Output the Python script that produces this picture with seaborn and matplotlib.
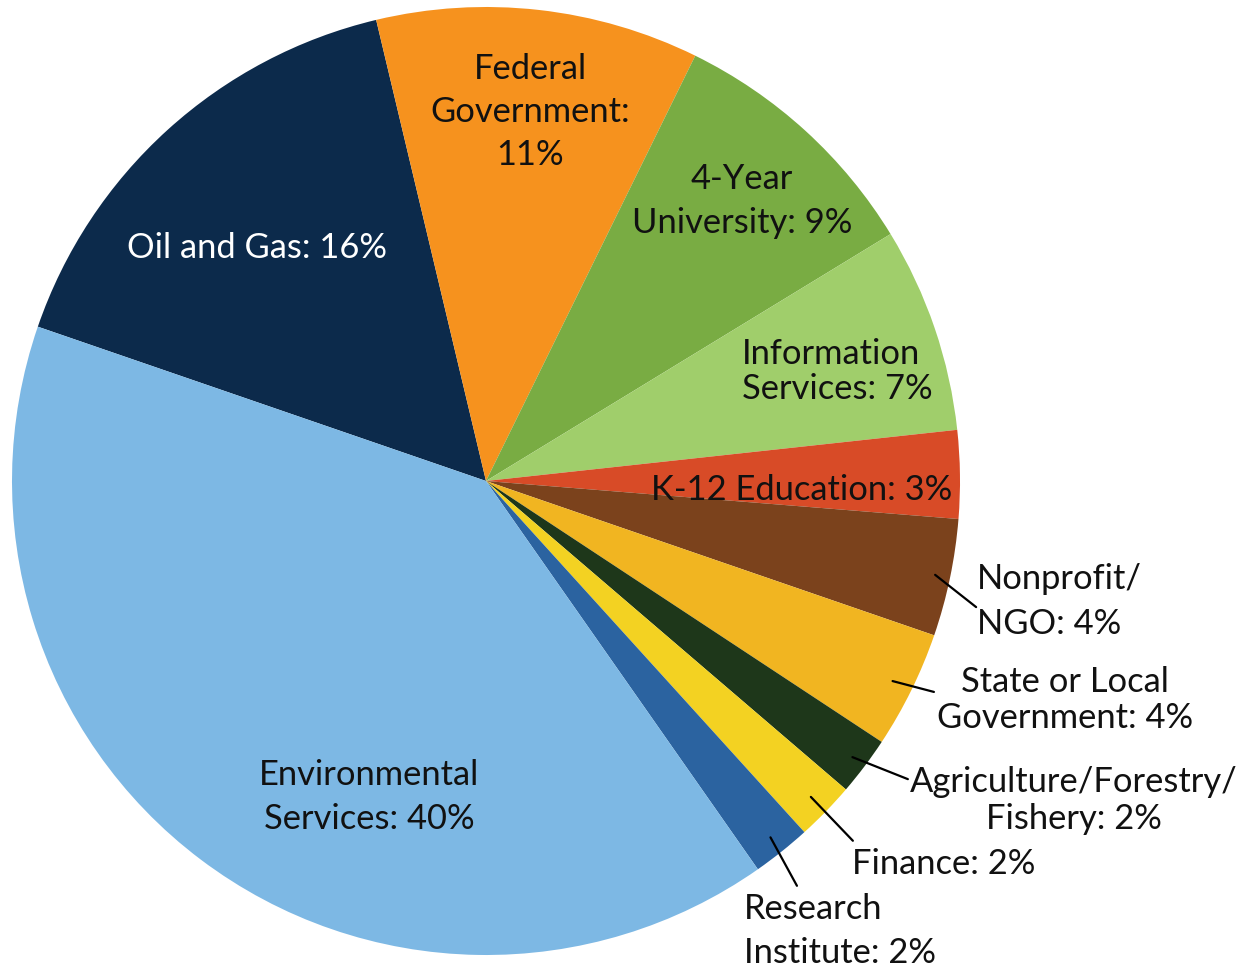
import numpy as np
import matplotlib
matplotlib.use("Agg")
import matplotlib.pyplot as plt
import seaborn as sns

# Employment sectors and their shares (percent)
sectors = [
    "Oil and Gas", "Federal Government", "4-Year University",
    "Information Services", "K-12 Education", "Nonprofit/NGO",
    "State or Local Government", "Agriculture/Forestry/Fishery",
    "Finance", "Research Institute", "Environmental Services",
]
shares = [16, 11, 9, 7, 3, 4, 4, 2, 2, 2, 40]
label_texts = [
    "Oil and Gas: 16%",
    "Federal\nGovernment:\n11%",
    "4-Year\nUniversity: 9%",
    "Information\nServices: 7%",
    "K-12 Education: 3%",
    "Nonprofit/\nNGO: 4%",
    "State or Local\nGovernment: 4%",
    "Agriculture/Forestry/\nFishery: 2%",
    "Finance: 2%",
    "Research\nInstitute: 2%",
    "Environmental\nServices: 40%",
]
slice_colors = [
    "#0c2a4b", "#f6921e", "#79ac43", "#a0ce6b", "#d84b27", "#7b421c",
    "#f1b521", "#1e371a", "#f3d222", "#2b63a0", "#7db8e4",
]

sns.set_theme(style="white")
plt.rcParams["font.family"] = ["Lato", "DejaVu Sans"]
palette = sns.color_palette(slice_colors)

W, H = 1243, 967
fig = plt.figure(figsize=(W / 100, H / 100), dpi=100)
cx, cy, r = 486, 481, 474
ax = fig.add_axes([(cx - r) / W, (H - cy - r) / H, 2 * r / W, 2 * r / H])

start = 161
wedges, _ = ax.pie(
    shares, colors=palette, startangle=start, counterclock=False,
    radius=1.0, center=(0, 0), wedgeprops=dict(linewidth=0),
)
ax.set_xlim(-1, 1)
ax.set_ylim(-1, 1)
ax.set_aspect("equal")
ax.axis("off")

fs = 24.8
ink = "#111111"
# label placement: (x, y, horizontal alignment, line spacing, colour)
placement = {
    "Oil and Gas": (-0.483, 0.492, "center", 1.3, "white"),
    "Federal Government": (0.093, 0.779, "center", 1.43, ink),
    "4-Year University": (0.540, 0.590, "center", 1.45, ink),
    "Information Services": (0.540, 0.231, "left", 1.10, ink),
    "K-12 Education": (0.665, -0.019, "center", 1.3, ink),
    "Nonprofit/NGO": (1.036, -0.254, "left", 1.51, ink),
    "State or Local Government": (1.222, -0.462, "center", 1.13, ink),
    "Agriculture/Forestry/Fishery": (1.241, -0.674, "center", 1.19, ink),
    "Finance": (0.966, -0.809, "center", 1.3, ink),
    "Research Institute": (0.544, -0.950, "left", 1.45, ink),
    "Environmental Services": (-0.247, -0.667, "center", 1.44, ink),
}
for name, txt in zip(sectors, label_texts):
    x, y, ha, ls, col = placement[name]
    ax.text(x, y, txt, ha=ha, va="center", fontsize=fs, color=col,
            linespacing=ls, multialignment=ha, clip_on=False)

# leader lines for the narrow slices: from inside the wedge to the label
leaders = {
    "Nonprofit/NGO": (0.968, (1.034, -0.266)),
    "State or Local Government": (0.956, (0.945, -0.445)),
    "Agriculture/Forestry/Fishery": (0.968, (0.890, -0.629)),
    "Finance": (0.956, (0.774, -0.759)),
    "Research Institute": (0.962, (0.656, -0.854)),
}
for w, name in zip(wedges, sectors):
    if name in leaders:
        a = np.deg2rad((w.theta1 + w.theta2) / 2)
        r0, end = leaders[name]
        ax.annotate("", xy=(r0 * np.cos(a), r0 * np.sin(a)), xytext=end,
                    arrowprops=dict(arrowstyle="-", color="black", lw=1.6,
                                    shrinkA=0, shrinkB=0),
                    annotation_clip=False)

fig.savefig("out.png", dpi=100, facecolor="white")
